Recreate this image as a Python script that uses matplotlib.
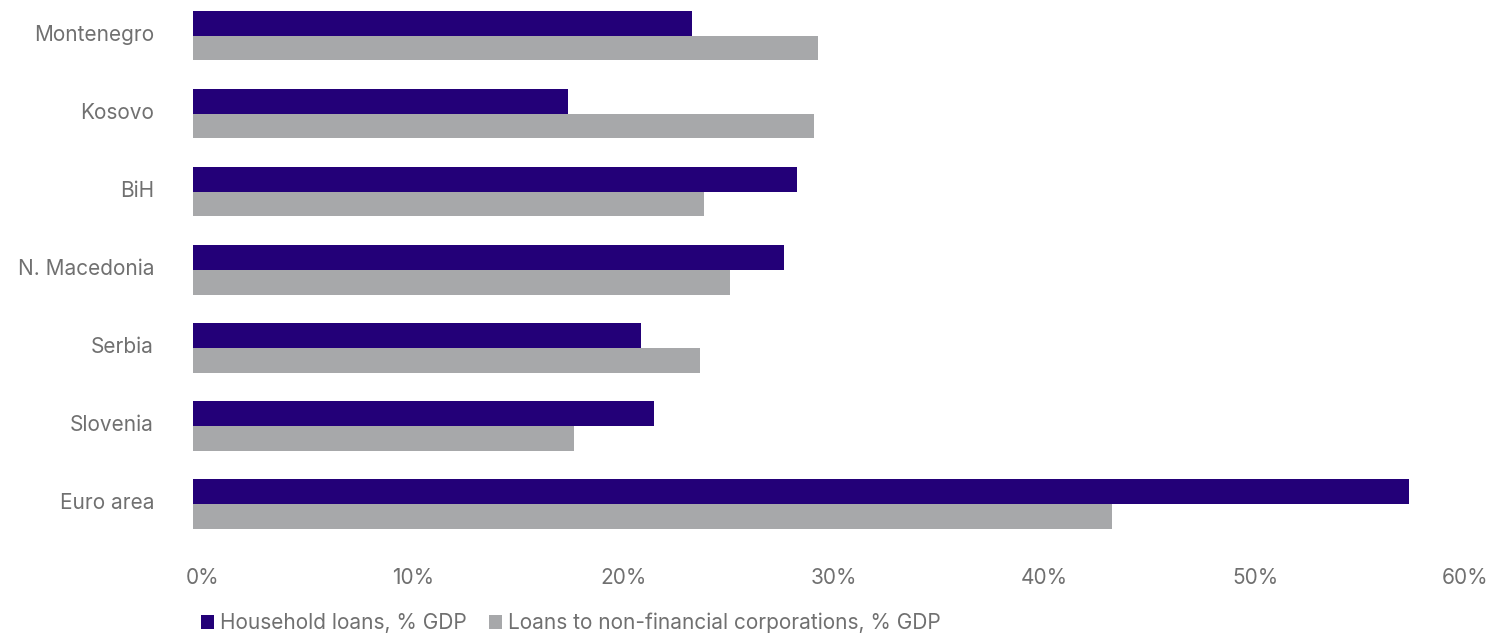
import matplotlib.pyplot as plt
import matplotlib.transforms as mtransforms
import numpy as np

countries = ["Montenegro", "Kosovo", "BiH", "N. Macedonia", "Serbia", "Slovenia", "Euro area"]
household = [23.7, 17.8, 28.7, 28.1, 21.3, 21.9, 57.8]
corporate = [29.7, 29.5, 24.3, 25.5, 24.1, 18.1, 43.7]
xticks = [0, 10, 20, 30, 40, 50, 60]

purple = "#230078"
grey = "#A7A8AA"
text_grey = "#707070"

plt.rcParams["font.family"] = ["Inter", "DejaVu Sans"]
fs = 15

fig = plt.figure(figsize=(14.91, 6.36), dpi=100)
ax = fig.add_axes([193 / 1491, 93 / 636, (1455.4 - 193) / 1491, 543 / 636])

# first country at the top
y = np.arange(len(countries))[::-1]
h = 0.315
ax.barh(y + h / 2, household, height=h, color=purple, label="Household loans, % GDP")
ax.barh(y - h / 2, corporate, height=h, color=grey,
        label="Loans to non-financial corporations, % GDP")

ax.set_xlim(0, 60)
ax.set_ylim(-0.5, 6.46)
ax.set_yticks(y)
ax.set_yticklabels(countries)
ax.set_xticks(xticks)
ax.set_xticklabels([f"{v}%" for v in xticks])

ax.tick_params(axis="y", length=0, pad=28, labelsize=fs, labelcolor=text_grey)
ax.tick_params(axis="x", length=0, pad=18, labelsize=fs, labelcolor=text_grey)
for lbl in ax.get_xticklabels():
    lbl.set_transform(lbl.get_transform() +
                      mtransforms.ScaledTranslation(10 / 100, 0, fig.dpi_scale_trans))
for lbl in ax.get_yticklabels():
    lbl.set_transform(lbl.get_transform() +
                      mtransforms.ScaledTranslation(0, 3 / 100, fig.dpi_scale_trans))

for s in ax.spines.values():
    s.set_visible(False)

fig.legend(loc="center left", bbox_to_anchor=(201 / 1491, 1 - 623 / 636), ncol=2,
           frameon=False, fontsize=fs, labelcolor=text_grey,
           handlelength=0.6, handleheight=0.6, handletextpad=0.3,
           columnspacing=1.1, borderaxespad=0, borderpad=0)

fig.savefig("out.png", dpi=100)
